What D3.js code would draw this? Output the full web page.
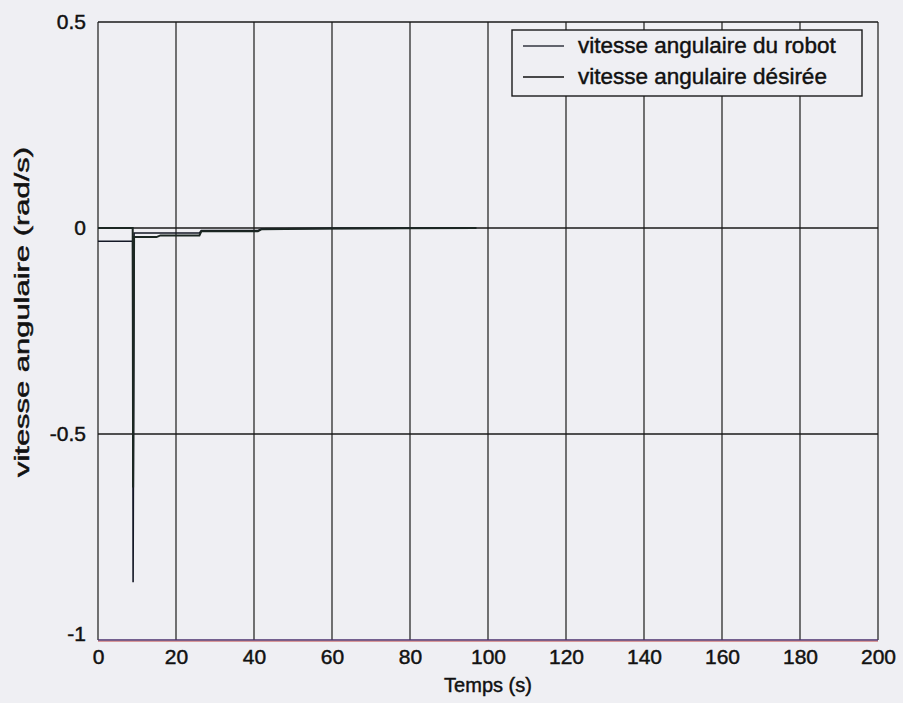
<!DOCTYPE html>
<html>
<head>
<meta charset="utf-8">
<script src="https://cdn.jsdelivr.net/npm/d3@7"></script>
<style>
  html, body { margin: 0; padding: 0; background: #efeff3; }
  svg { display: block; }
  text { font-family: "Liberation Sans", Arial, sans-serif; fill: #111; stroke: #111; stroke-width: 0.45px; }
</style>
</head>
<body>
<svg id="chart" width="903" height="703"></svg>
<script>
// Angular speed of the robot vs. desired angular speed (rad/s) over time (s)
const robotT   = [0, 8.9, 9.0, 9.25, 15, 26, 26.5, 41, 42, 60, 97];
const robotW   = [-0.032, -0.032, -0.86, -0.012, -0.012, -0.012, -0.006, -0.006, -0.002, -0.001, 0];
const desiredT = [0, 8.9, 9.0, 9.25, 15, 16, 26, 26.5, 41, 42, 60, 97];
const desiredW = [0, 0, -0.63, -0.022, -0.022, -0.018, -0.018, -0.008, -0.008, -0.003, -0.001, 0];

const xTicks = [0, 20, 40, 60, 80, 100, 120, 140, 160, 180, 200];
const yTicks = [-1, -0.5, 0, 0.5];
const legendLabels = ["vitesse angulaire du robot", "vitesse angulaire désirée"];
const xLabel = "Temps (s)";
const yLabel = "vitesse angulaire (rad/s)";

const margin = { left: 98, right: 25, top: 22, bottom: 63 };
const W = 903, H = 703;
const svg = d3.select("#chart");

const x = d3.scaleLinear().domain([0, 200]).range([margin.left, W - margin.right]);
const y = d3.scaleLinear().domain([-1, 0.5]).range([H - margin.bottom, margin.top]);

// Grid lines (the outer ones double as the frame)
const g = svg.append("g");
g.selectAll("line.vx").data(xTicks).join("line")
  .attr("x1", d => x(d)).attr("x2", d => x(d))
  .attr("y1", y(0.5)).attr("y2", y(-1))
  .attr("stroke", "#1a1a1a").attr("stroke-width", 1.2);
g.selectAll("line.hy").data(yTicks).join("line")
  .attr("x1", x(0)).attr("x2", x(200))
  .attr("y1", d => y(d)).attr("y2", d => y(d))
  .attr("stroke", d => d === -1 ? "#4a2f6e" : "#1a1a1a").attr("stroke-width", 1.3);
svg.append("line").attr("x1", x(0)).attr("x2", x(200))
  .attr("y1", y(-1) + 1.3).attr("y2", y(-1) + 1.3)
  .attr("stroke", "#c85a5a").attr("stroke-width", 0.9).attr("opacity", 0.8);

// Tick labels
const xAxis = svg.append("g").attr("transform", `translate(0,${y(-1)})`)
  .call(d3.axisBottom(x).tickValues(xTicks).tickSize(0).tickPadding(9).tickFormat(d3.format("d")));
xAxis.select(".domain").remove();
xAxis.selectAll("text").style("font-size", "21px").attr("fill", "#111");

const yAxis = svg.append("g").attr("transform", `translate(${x(0) - 12},0)`)
  .call(d3.axisLeft(y).tickValues(yTicks).tickSize(0).tickPadding(0).tickFormat(d => d === 0 ? "0" : String(d)));
yAxis.select(".domain").remove();
yAxis.selectAll("text").style("font-size", "21px").attr("fill", "#111");
// the bottom label sits a little above its grid line so it clears the x labels
yAxis.selectAll(".tick").filter(d => d === -1).select("text").attr("dy", "0.0em");

// Axis titles
svg.append("text").attr("x", (x(0) + x(200)) / 2).attr("y", 692)
  .attr("text-anchor", "middle").style("font-size", "20px").text(xLabel);
svg.append("text")
  .attr("transform", `translate(29,312) rotate(-90)`)
  .attr("text-anchor", "middle").style("font-size", "20px")
  .attr("textLength", 330).attr("lengthAdjust", "spacingAndGlyphs")
  .text(yLabel);

// Series
const line = d3.line().x(d => x(d[0])).y(d => y(d[1]));
svg.append("path").datum(robotT.map((t, i) => [t, robotW[i]]))
  .attr("d", line).attr("fill", "none").attr("stroke", "#141826").attr("stroke-width", 1.6);
svg.append("path").datum(desiredT.map((t, i) => [t, desiredW[i]]))
  .attr("d", line).attr("fill", "none").attr("stroke", "#1b2622").attr("stroke-width", 2);

// Legend
const lg = svg.append("g");
lg.append("rect").attr("x", 512).attr("y", 30).attr("width", 350).attr("height", 66)
  .attr("fill", "#efeff3").attr("stroke", "#1a1a1a").attr("stroke-width", 1.4);
const colors = ["#333640", "#111"];
legendLabels.forEach((lab, i) => {
  const yy = 46 + i * 31;
  lg.append("line").attr("x1", 523).attr("x2", 564).attr("y1", yy).attr("y2", yy)
    .attr("stroke", colors[i]).attr("stroke-width", 1.3);
  lg.append("text").attr("x", 578).attr("y", yy + 7).style("font-size", "22.5px").text(lab);
});
</script>
</body>
</html>
